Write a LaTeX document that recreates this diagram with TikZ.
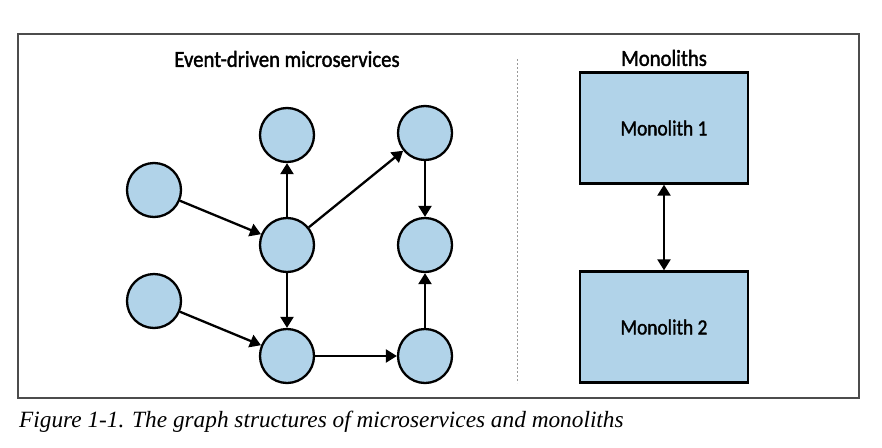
\documentclass[tikz,border=0pt]{standalone}
\usepackage{fontspec}
\setmainfont{Liberation Serif}
\newfontfamily\labelfont[FakeBold=1.6, FakeStretch=0.9]{Carlito}
\usetikzlibrary{arrows.meta}
\definecolor{svcblue}{RGB}{177,211,233}
\begin{document}
\begin{tikzpicture}[x = 1pt, y = -1pt]
      \tikzstyle{every node} = [inner sep = 0pt];
      \tikzstyle{svc} = [draw, circle, line width = 2.3pt, fill = svcblue, minimum size = 54pt];
      \tikzstyle{mono} = [draw, rectangle, line width = 2.3pt, fill = svcblue, minimum width = 168pt, minimum height = 111pt, font = \labelfont\fontsize{21.5}{25}\selectfont];
      \tikzstyle{flow} = [line width = 2.3pt, -{Triangle[length = 11pt, width = 13pt]}];
      \useasboundingbox (0,0) rectangle (882,447);
      % frame and divider
      \draw[line width = 1.2pt, black!70] (18,34) rectangle (859,398);
      \coordinate (divt) at (517,59);
      \coordinate (divb) at (517,383);
      \draw[black!40, dash pattern = on 2pt off 2pt] (divt) -- (divb);
      % titles
      \node(evt) [font = \labelfont\fontsize{23}{27}\selectfont] at (287,59) {Event-driven microservices};
      \node(mt) [font = \labelfont\fontsize{23}{27}\selectfont] at (664,58) {Monoliths};
      % microservices
      \node(inu) [svc] at (154, 190) {};
      \node(inl) [svc] at (154, 301) {};
      \node(top) [svc] at (287, 135) {};
      \node(hub) [svc] at (287, 245) {};
      \node(bot) [svc] at (287, 356) {};
      \node(tr) [svc] at (425, 133) {};
      \node(mr) [svc] at (425, 245) {};
      \node(br) [svc] at (425, 356) {};
      \path[flow]
      (inu) edge (hub)
      (inl) edge (bot)
      (hub) edge (top)
      edge (tr)
      edge (bot)
      (tr) edge (mr)
      (bot) edge (br)
      (br) edge (mr);
      % monoliths
      \node(m1) [mono] at (664, 128) {Monolith 1};
      \node(m2) [mono] at (664, 327) {Monolith 2};
      \path[line width = 2.3pt, {Triangle[length = 11pt, width = 13pt]}-{Triangle[length = 11pt, width = 13pt]}]
      (m1) edge (m2);
      % caption
      \node(cap) [anchor = base west, font = \itshape\fontsize{23.3}{27}\selectfont] at (19,427) {Figure 1-1. The graph structures of microservices and monoliths};
    \end{tikzpicture}
\end{document}
